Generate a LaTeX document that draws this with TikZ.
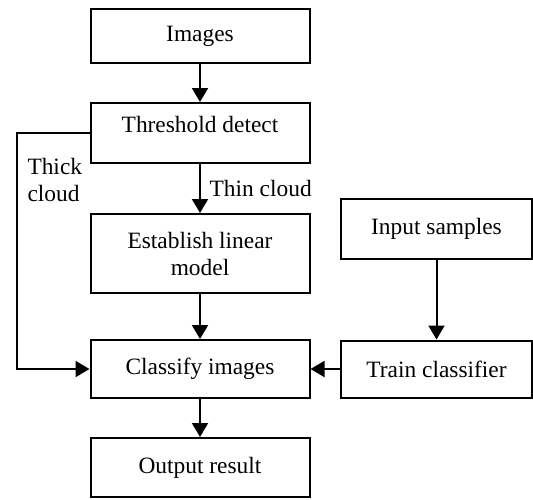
\documentclass[tikz,border=0pt]{standalone}
\usepackage{fontspec}
\setmainfont{Liberation Serif}
\usetikzlibrary{arrows.meta}

\begin{document}
\begin{tikzpicture}[auto, node distance = 50pt, > = {Triangle[length = 7pt, width = 8pt]}, font = \fontsize{11.7}{13.5}\selectfont, line width = 1pt]
\tikzset{
  block/.style = {draw, fill = white, rectangle, minimum width = 109.5pt, minimum height = 29pt, align = center},
  sideblock/.style = {block, minimum width = 95.5pt},
  label/.style = {align = left, inner sep = 0pt},
}
\useasboundingbox (0,0) rectangle (266.5pt,-249.5pt);
\node [block, minimum height = 26.75pt] at (100pt,-18pt) (images) {Images};
\node [block, below of = images, node distance = 48.5pt, minimum height = 30pt, text depth = 9pt] (threshold) {Threshold detect};
\node [block, below of = threshold, node distance = 60.25pt, minimum height = 39.5pt] (establish) {Establish linear\\model};
\node [block, below of = establish, node distance = 57.75pt] (classify) {Classify images};
\node [block, below of = classify, node distance = 49.25pt, minimum height = 29.5pt] (output) {Output result};
\node [sideblock, right of = classify, node distance = 118.25pt, minimum height = 28.5pt] (train) {Train classifier};
\node [sideblock, above of = train, node distance = 70.25pt, minimum height = 30pt] (samples) {Input samples};
\draw [->] (images) -- (threshold);
\draw [->] (threshold) -- node [xshift = 1pt] {Thin cloud} (establish);
\draw [->] (establish) -- (classify);
\draw [->] (classify) -- (output);
\draw [->] (samples) -- (train);
\draw [->] (train) -- (classify);
\draw [->] (threshold.west) -- ++(-36.5pt,0) |- node [label, pos = 0.1, right, xshift = 5pt] {Thick\\cloud} (classify.west);
\end{tikzpicture}
\end{document}
